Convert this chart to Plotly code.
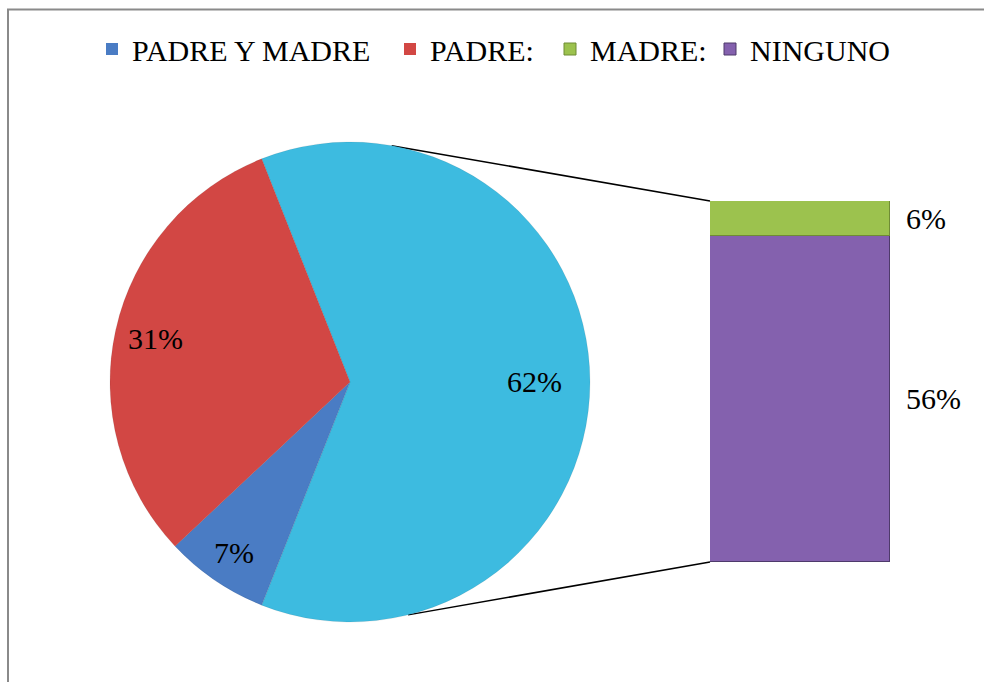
import math
import plotly.graph_objects as go

# ---------------- data ----------------
pie_labels = ["OTROS", "PADRE Y MADRE", "PADRE:"]
pie_values = [62, 7, 31]
pie_text = ["62%", "7%", "31%"]
bar_labels = ["NINGUNO", "MADRE:"]          # bottom -> top
bar_values = [56, 6]
bar_text = ["56%", "6%"]
legend_order = ["PADRE Y MADRE", "PADRE:", "MADRE:", "NINGUNO"]

# ---------------- style ----------------
W, H = 984, 682
FONT = "Liberation Serif"
FS = 30
C_CYAN = "#3dbbe0"
C_BLUE = "#4a7cc4"
C_RED = "#d24744"
C_GREEN = "#9cc24e"
C_PURPLE = "#8461ae"
colors = {"OTROS": C_CYAN, "PADRE Y MADRE": C_BLUE, "PADRE:": C_RED,
          "MADRE:": C_GREEN, "NINGUNO": C_PURPLE}
edge = {"MADRE:": "#6f8c35", "NINGUNO": "#4e3a6b"}
label_radius = [0.77, 0.86, 0.83]          # radial position of pie labels (fraction of r)
legend_text_x = [132, 430, 590, 750]      # pixel where each legend text starts

# pie placement (pixels)
PCX, PCY, PR = 350, 382, 240
# bar placement (pixels)
BX0, BX1, BY0, BY1 = 710, 890, 201, 562


def px(x):
    return x / W


def py(y):
    return 1 - y / H


fig = go.Figure()

total = sum(pie_values)
start = -pie_values[0] / total * 360 / 2 + 90      # "OTROS" centred towards the bar
fig.add_trace(go.Pie(
    labels=pie_labels, values=pie_values, sort=False, direction="clockwise",
    rotation=start,
    marker=dict(colors=[colors[l] for l in pie_labels],
                line=dict(color="rgba(0,0,0,0.15)", width=0.5)),
    textinfo="none",
    domain=dict(x=[px(PCX - PR), px(PCX + PR)], y=[py(PCY + PR), py(PCY - PR)]),
    showlegend=False, hoverinfo="label+percent",
))

# pie labels, positioned along each slice's bisector
ang = start
for val, txt, rf in zip(pie_values, pie_text, label_radius):
    mid = math.radians(ang + val / total * 360 / 2)
    ang += val / total * 360
    lx = PCX + rf * PR * math.sin(mid)
    ly = PCY - rf * PR * math.cos(mid)
    fig.add_annotation(x=px(lx), y=py(ly), xref="paper", yref="paper", text=txt,
                       showarrow=False, xanchor="center", yanchor="middle",
                       font=dict(family=FONT, size=FS, color="black"))

# legend-only entries for pie slices
for name in ["PADRE Y MADRE", "PADRE:"]:
    k = legend_order.index(name)
    fig.add_trace(go.Bar(x=[0], y=[0], name=name, width=1,
                         marker=dict(color=colors[name], line=dict(width=0)),
                         legend="legend" if k == 0 else f"legend{k + 1}",
                         hoverinfo="skip"))

# stacked bar
for name, val in zip(bar_labels, bar_values):
    k = legend_order.index(name)
    fig.add_trace(go.Bar(x=[0], y=[val], name=name, width=1,
                         marker=dict(color=colors[name],
                                     line=dict(color=edge[name], width=1)),
                         legend="legend" if k == 0 else f"legend{k + 1}"))

# bar labels
cum = 0
for name, val, txt in zip(bar_labels, bar_values, bar_text):
    fig.add_annotation(x=0.5, y=cum + val / 2, xref="x", yref="y", text=txt,
                       showarrow=False, xanchor="left", xshift=14,
                       font=dict(family=FONT, size=FS, color="black"))
    cum += val

# connector lines (from the pie rim to the bar corners)
a_top = math.radians(10)
a_bot = math.radians(166)
top_pt = (PCX + PR * math.sin(a_top), PCY - PR * math.cos(a_top))
bot_pt = (PCX + PR * math.sin(a_bot), PCY - PR * math.cos(a_bot))
fig.add_shape(type="line", xref="paper", yref="paper",
              x0=px(top_pt[0]), y0=py(top_pt[1]), x1=px(BX0), y1=py(BY0),
              line=dict(color="black", width=1.5), layer="below")
fig.add_shape(type="line", xref="paper", yref="paper",
              x0=px(bot_pt[0]), y0=py(bot_pt[1]), x1=px(BX0), y1=py(BY1),
              line=dict(color="black", width=1.5), layer="below")

# outer frame
fig.add_shape(type="rect", xref="paper", yref="paper",
              x0=px(8), y0=-0.05, x1=1.05, y1=py(9.5),
              line=dict(color="#8a8a8a", width=2))

legends = {}
for k, tx in enumerate(legend_text_x):
    key = "legend" if k == 0 else f"legend{k + 1}"
    legends[key] = dict(orientation="h", x=px(tx - 40), xanchor="left",
                        y=py(49), yanchor="middle",
                        font=dict(family=FONT, size=FS, color="black"),
                        itemwidth=30, bgcolor="rgba(0,0,0,0)", borderwidth=0)

fig.update_layout(
    width=W, height=H,
    margin=dict(l=0, r=0, t=0, b=0),
    paper_bgcolor="white", plot_bgcolor="rgba(0,0,0,0)",
    barmode="stack", bargap=0,
    font=dict(family=FONT, color="black"),
    xaxis=dict(domain=[px(BX0), px(BX1)], range=[-0.5, 0.5], visible=False,
               fixedrange=True),
    yaxis=dict(domain=[py(BY1), py(BY0)], range=[0, sum(bar_values)],
               visible=False, fixedrange=True),
    **legends,
)

fig.write_html("out.html", config={"displayModeBar": False},
               post_script="document.body.style.margin='0';"
                           "document.body.style.overflow='hidden';")
